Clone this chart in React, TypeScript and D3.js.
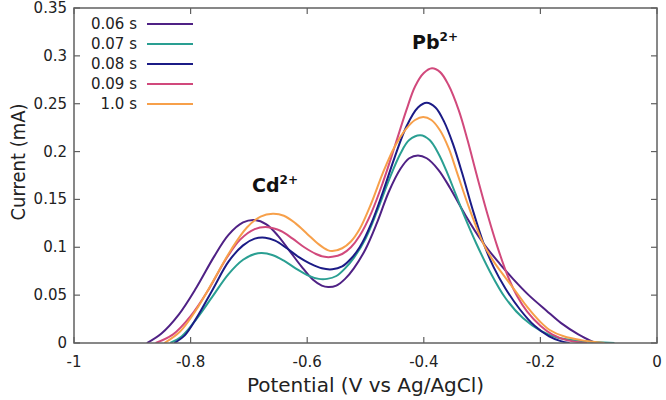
import React from "react";
import * as d3 from "d3";

const seriesNames = ["0.06 s", "0.07 s", "0.08 s", "0.09 s", "1.0 s"];
const seriesColors = ["#4f2185", "#2a9f92", "#1b1b86", "#d1497c", "#f7a04a"];

const s006: [number, number][] = [
  [-0.875, 0], [-0.85, 0.01], [-0.82, 0.03], [-0.79, 0.058], [-0.76, 0.09], [-0.735, 0.113],
  [-0.71, 0.126], [-0.69, 0.1285], [-0.67, 0.124], [-0.65, 0.112], [-0.63, 0.096], [-0.61, 0.08],
  [-0.59, 0.066], [-0.575, 0.06], [-0.564, 0.0585], [-0.55, 0.06], [-0.535, 0.067], [-0.52, 0.078],
  [-0.5, 0.098], [-0.48, 0.126], [-0.46, 0.158], [-0.44, 0.182], [-0.425, 0.193], [-0.41, 0.196],
  [-0.395, 0.193], [-0.375, 0.181], [-0.355, 0.162], [-0.33, 0.135], [-0.3, 0.106], [-0.27, 0.083],
  [-0.247, 0.067], [-0.22, 0.05], [-0.19, 0.034], [-0.165, 0.021], [-0.135, 0.009], [-0.106, 0],
];
const s007: [number, number][] = [
  [-0.835, 0], [-0.815, 0.007], [-0.79, 0.025], [-0.762, 0.049], [-0.735, 0.072], [-0.71, 0.087],
  [-0.69, 0.093], [-0.678, 0.094], [-0.66, 0.092], [-0.64, 0.086], [-0.62, 0.078], [-0.6, 0.071],
  [-0.58, 0.067], [-0.566, 0.067], [-0.55, 0.07], [-0.535, 0.078], [-0.52, 0.089], [-0.5, 0.109],
  [-0.48, 0.138], [-0.46, 0.17], [-0.44, 0.198], [-0.425, 0.212], [-0.406, 0.217], [-0.39, 0.212],
  [-0.375, 0.198], [-0.36, 0.178], [-0.345, 0.155], [-0.33, 0.132], [-0.31, 0.104], [-0.286, 0.074],
  [-0.26, 0.047], [-0.23, 0.026], [-0.2, 0.013], [-0.17, 0.0055], [-0.13, 0.002], [-0.073, 0],
];
const s008: [number, number][] = [
  [-0.828, 0], [-0.81, 0.008], [-0.79, 0.026], [-0.762, 0.056], [-0.735, 0.085], [-0.71, 0.102],
  [-0.69, 0.109], [-0.672, 0.11], [-0.655, 0.107], [-0.635, 0.099], [-0.615, 0.09], [-0.595, 0.083],
  [-0.575, 0.078], [-0.557, 0.077], [-0.54, 0.08], [-0.525, 0.088], [-0.51, 0.1], [-0.49, 0.125],
  [-0.47, 0.158], [-0.45, 0.194], [-0.43, 0.226], [-0.41, 0.246], [-0.395, 0.251], [-0.38, 0.246],
  [-0.365, 0.231], [-0.35, 0.208], [-0.334, 0.177], [-0.317, 0.141], [-0.298, 0.105], [-0.28, 0.079],
  [-0.26, 0.057], [-0.235, 0.035], [-0.21, 0.018], [-0.185, 0.007], [-0.165, 0.002], [-0.15, 0],
];
const s009: [number, number][] = [
  [-0.86, 0], [-0.83, 0.009], [-0.8, 0.028], [-0.77, 0.055], [-0.74, 0.087], [-0.715, 0.108],
  [-0.69, 0.119], [-0.667, 0.121], [-0.645, 0.117], [-0.625, 0.109], [-0.605, 0.1], [-0.585, 0.093],
  [-0.57, 0.09], [-0.557, 0.09], [-0.54, 0.093], [-0.525, 0.1], [-0.51, 0.112], [-0.49, 0.136],
  [-0.47, 0.168], [-0.45, 0.205], [-0.43, 0.243], [-0.415, 0.268], [-0.4, 0.282], [-0.386, 0.287],
  [-0.372, 0.283], [-0.358, 0.27], [-0.34, 0.243], [-0.325, 0.212], [-0.309, 0.175], [-0.29, 0.133],
  [-0.274, 0.101], [-0.256, 0.07], [-0.24, 0.049], [-0.223, 0.033], [-0.2, 0.018], [-0.18, 0.009],
  [-0.155, 0.003], [-0.12, 0],
];
const s010: [number, number][] = [
  [-0.845, 0], [-0.818, 0.012], [-0.79, 0.035], [-0.762, 0.064], [-0.73, 0.098], [-0.703, 0.121],
  [-0.68, 0.132], [-0.659, 0.135], [-0.64, 0.133], [-0.62, 0.125], [-0.6, 0.114], [-0.58, 0.103],
  [-0.565, 0.097], [-0.557, 0.096], [-0.54, 0.099], [-0.525, 0.106], [-0.51, 0.119], [-0.49, 0.146],
  [-0.47, 0.178], [-0.45, 0.205], [-0.43, 0.224], [-0.415, 0.233], [-0.401, 0.236], [-0.387, 0.233],
  [-0.372, 0.222], [-0.357, 0.203], [-0.343, 0.178], [-0.321, 0.139], [-0.298, 0.104], [-0.28, 0.085],
  [-0.261, 0.069], [-0.24, 0.052], [-0.223, 0.038], [-0.2, 0.022], [-0.184, 0.0136], [-0.16, 0.007],
  [-0.13, 0.003], [-0.09, 0],
];
const seriesData = [s006, s007, s008, s009, s010];

const xTicks = [-1, -0.8, -0.6, -0.4, -0.2, 0];
const xTickLabels = ["-1", "-0.8", "-0.6", "-0.4", "-0.2", "0"];
const yTicks = [0, 0.05, 0.1, 0.15, 0.2, 0.25, 0.3, 0.35];
const yTickLabels = ["0", "0.05", "0.1", "0.15", "0.2", "0.25", "0.3", "0.35"];

const W = 666, H = 400;
const L = 74, R = 657, T = 8, B = 343;
const FONT = "DejaVu Sans, Verdana, sans-serif";
const FONT_C = "DejaVu Sans Condensed, DejaVu Sans, sans-serif";

export default function App() {
  const x = d3.scaleLinear().domain([-1, 0]).range([L, R]);
  const y = d3.scaleLinear().domain([0, 0.35]).range([B, T]);
  const line = d3.line<[number, number]>()
    .x((d) => x(d[0]))
    .y((d) => y(d[1]))
    .curve(d3.curveCatmullRom.alpha(0.5));
  const tick = 6;
  const axisColor = "#606060";
  return (
    <svg width={W} height={H} style={{ position: "absolute", left: 0, top: 0, background: "#fff" }}>
      <defs>
        <clipPath id="plot">
          <rect x={L} y={T} width={R - L} height={B - T} />
        </clipPath>
      </defs>
      <rect x={0} y={0} width={W} height={H} fill="#fff" />
      <g clipPath="url(#plot)">
        {seriesData.map((d, i) => (
          <path key={i} d={line(d) || ""} fill="none" stroke={seriesColors[i]} strokeWidth={2} />
        ))}
      </g>
      <rect x={L} y={T} width={R - L} height={B - T} fill="none" stroke={axisColor} strokeWidth={1.5} />
      {xTicks.map((t, i) => (
        <g key={"x" + i}>
          <line x1={x(t)} x2={x(t)} y1={B} y2={B - tick} stroke={axisColor} strokeWidth={1.2} />
          <line x1={x(t)} x2={x(t)} y1={T} y2={T + tick} stroke={axisColor} strokeWidth={1.2} />
          <text x={x(t)} y={B + 24} textAnchor="middle" fontFamily={FONT} fontSize={15} fill="#222">
            {xTickLabels[i]}
          </text>
        </g>
      ))}
      {yTicks.map((t, i) => (
        <g key={"y" + i}>
          <line x1={L} x2={L + tick} y1={y(t)} y2={y(t)} stroke={axisColor} strokeWidth={1.2} />
          <line x1={R} x2={R - tick} y1={y(t)} y2={y(t)} stroke={axisColor} strokeWidth={1.2} />
          <text x={L - 7} y={y(t) + 5} textAnchor="end" fontFamily={FONT} fontSize={15} fill="#222">
            {yTickLabels[i]}
          </text>
        </g>
      ))}
      <text x={(L + R) / 2} y={392} textAnchor="middle" fontFamily={FONT} fontSize={20} fill="#222">
        Potential (V vs Ag/AgCl)
      </text>
      <text transform={`translate(25,162) rotate(-90)`} textAnchor="middle" fontFamily={FONT_C} fontSize={20} fill="#222">
        Current (mA)
      </text>
      {seriesNames.map((n, i) => (
        <g key={"l" + i}>
          <text x={137} y={24 + i * 20 + 5} textAnchor="end" fontFamily={FONT} fontSize={15} fill="#222">{n}</text>
          <line x1={147} x2={193} y1={24 + i * 20} y2={24 + i * 20} stroke={seriesColors[i]} strokeWidth={2} />
        </g>
      ))}
      <text x={252} y={192} fontFamily={FONT} fontSize={19} fontWeight="bold" fill="#111">
        Cd<tspan fontSize={12} dy={-8}>2+</tspan>
      </text>
      <text x={412} y={49} fontFamily={FONT} fontSize={19} fontWeight="bold" fill="#111">
        Pb<tspan fontSize={12} dy={-8}>2+</tspan>
      </text>
    </svg>
  );
}
